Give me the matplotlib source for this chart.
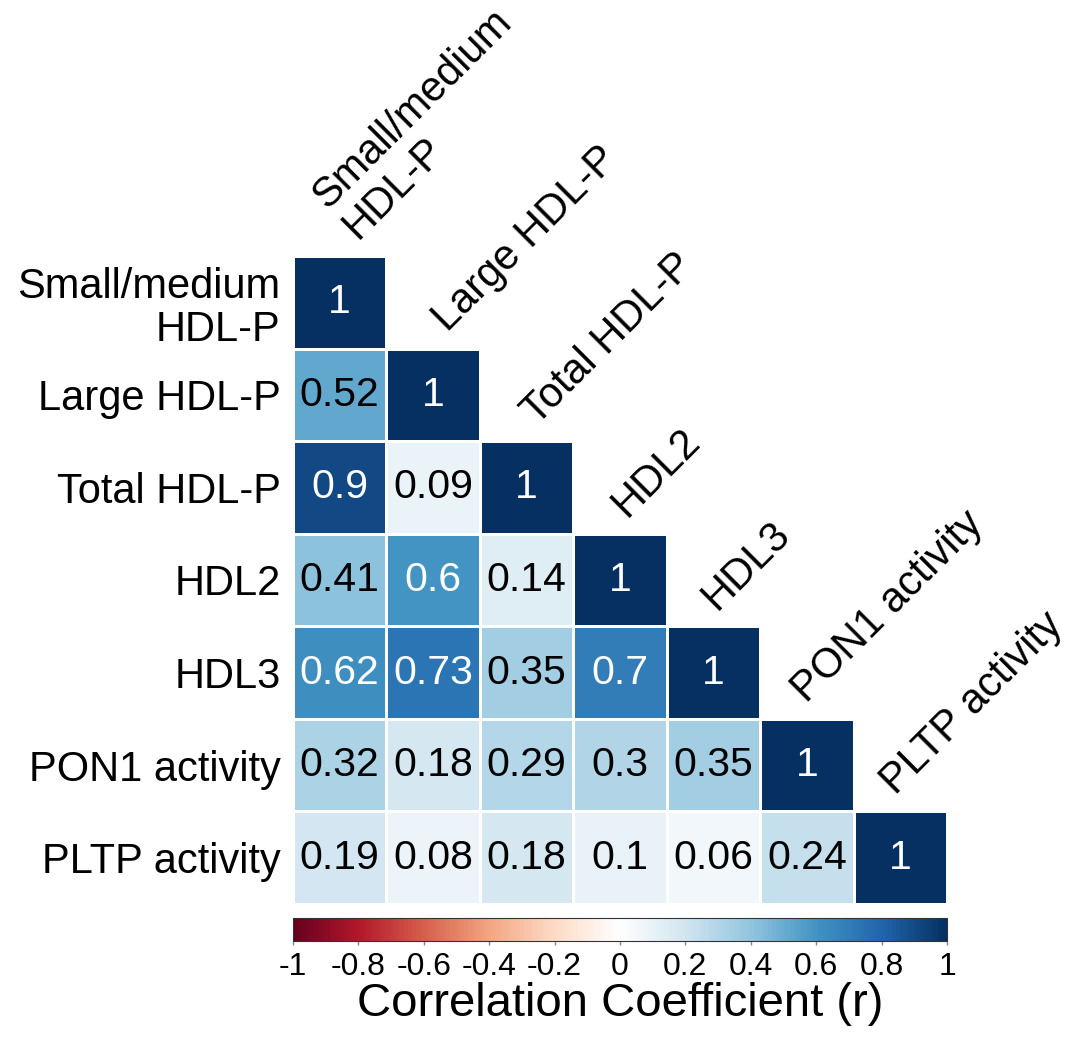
import numpy as np
import matplotlib.pyplot as plt
from matplotlib.colors import LinearSegmentedColormap

plt.rcParams['font.family'] = ['Liberation Sans', 'DejaVu Sans']

labels = ['Small/medium\nHDL-P', 'Large HDL-P', 'Total HDL-P', 'HDL2', 'HDL3',
          'PON1 activity', 'PLTP activity']

# lower-triangle correlations, row by row
rows = [
    [1],
    [0.52, 1],
    [0.9, 0.09, 1],
    [0.41, 0.6, 0.14, 1],
    [0.62, 0.73, 0.35, 0.7, 1],
    [0.32, 0.18, 0.29, 0.3, 0.35, 1],
    [0.19, 0.08, 0.18, 0.1, 0.06, 0.24, 1],
]
cbar_ticks = [-1, -0.8, -0.6, -0.4, -0.2, 0, 0.2, 0.4, 0.6, 0.8, 1]

n = len(labels)
corr = np.full((n, n), np.nan)
for i, r in enumerate(rows):
    corr[i, :len(r)] = r
corr = np.ma.masked_invalid(corr)

cmap = LinearSegmentedColormap.from_list('rdbu', [
    '#67001F', '#B2182B', '#D6604D', '#F4A582', '#FDDBC7', '#FFFFFF',
    '#D1E5F0', '#92C5DE', '#4393C3', '#2166AC', '#053061'])

fig = plt.figure(figsize=(10.8, 10.41), dpi=100)
ax = fig.add_axes([0.2713, 0.1316, 0.6056, 0.6225])
mesh = ax.pcolormesh(np.arange(n + 1), np.arange(n + 1), corr, cmap=cmap,
                     vmin=-1, vmax=1, edgecolors='white', linewidth=0.8)
ax.set_xlim(0, n)
ax.set_ylim(n, 0)
for s in ax.spines.values():
    s.set_visible(False)

for i, r in enumerate(rows):
    for j, v in enumerate(r):
        ax.text(j + 0.5, i + 0.5, f'{v:g}', ha='center', va='center',
                fontsize=29.5, color='white' if v > 0.55 else 'black')

ax.set_xticks([])
ax.set_yticks(np.arange(n) + 0.5)
ax.set_yticklabels(labels, fontsize=30, multialignment='right',
                   linespacing=1.1)
ax.tick_params(axis='y', length=0, pad=9)

# diagonal column headers, stepped a little tighter than the cells
for j, lab in enumerate(labels):
    ax.text(0.76 + 0.96 * j, j - 0.10, lab, rotation=45,
            rotation_mode='anchor', ha='left', va='bottom',
            multialignment='left', fontsize=30, linespacing=1.1)

cax = fig.add_axes([0.2713, 0.0961, 0.6056, 0.0221])
cb = fig.colorbar(mesh, cax=cax, orientation='horizontal', ticks=cbar_ticks)
cb.ax.set_xticklabels([f'{t:g}' for t in cbar_ticks])
cb.ax.tick_params(labelsize=23, length=3, width=1, color='#888888', pad=5)
cb.outline.set_linewidth(0.8)
cb.outline.set_edgecolor('#333333')
cb.set_label('Correlation Coefficient (r)', fontsize=34, labelpad=0)

fig.savefig('out.png', dpi=100)
